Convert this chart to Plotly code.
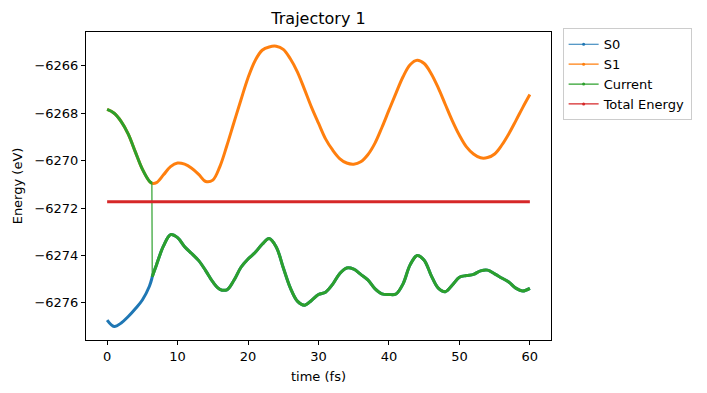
import plotly.graph_objects as go

# ---- data ----
time_fs = [0, 1, 2, 3, 4, 5, 6, 6.35, 6.4, 7, 8, 9, 10, 11, 12, 13, 14, 15, 16, 17, 18, 19, 20,
           21, 22, 23, 24, 25, 26, 27, 28, 29, 30, 31, 32, 33, 34, 35, 36, 37, 38, 39, 40,
           41, 42, 43, 44, 45, 46, 47, 48, 49, 50, 51, 52, 53, 54, 55, 56, 57, 58, 59, 60]

s0_energy = [-6276.73, -6277.00, -6276.85, -6276.58, -6276.25, -6275.88, -6275.30, -6274.97, -6274.90,
             -6274.40, -6273.60, -6273.12, -6273.25, -6273.63, -6273.92, -6274.22, -6274.65, -6275.12,
             -6275.43, -6275.45, -6275.05, -6274.50, -6274.15, -6273.88, -6273.53, -6273.29, -6273.64,
             -6274.52, -6275.37, -6275.93, -6276.10, -6275.90, -6275.65, -6275.55, -6275.22, -6274.77,
             -6274.53, -6274.58, -6274.80, -6275.03, -6275.40, -6275.62, -6275.65, -6275.63, -6275.20,
             -6274.40, -6274.00, -6274.20, -6274.85, -6275.38, -6275.53, -6275.25, -6274.92, -6274.85,
             -6274.80, -6274.65, -6274.62, -6274.78, -6274.95, -6275.12, -6275.38, -6275.50, -6275.39]

s1_energy = [-6267.84, -6268.00, -6268.35, -6268.88, -6269.63, -6270.36, -6270.87, -6270.95, -6270.96,
             -6270.93, -6270.60, -6270.25, -6270.10, -6270.15, -6270.32, -6270.58, -6270.88, -6270.82,
             -6270.25, -6269.36, -6268.39, -6267.43, -6266.50, -6265.78, -6265.34, -6265.20, -6265.17,
             -6265.30, -6265.70, -6266.25, -6266.98, -6267.74, -6268.42, -6269.08, -6269.55, -6269.91,
             -6270.10, -6270.15, -6270.05, -6269.75, -6269.27, -6268.60, -6267.87, -6267.15, -6266.46,
             -6265.95, -6265.76, -6265.90, -6266.33, -6266.93, -6267.63, -6268.32, -6268.93, -6269.42,
             -6269.72, -6269.88, -6269.87, -6269.72, -6269.35, -6268.87, -6268.32, -6267.75, -6267.21]

total_energy_value = -6271.74
hop_time = 6.35  # surface hop S1 -> S0

x_ticks = [0, 10, 20, 30, 40, 50, 60]
y_ticks = [-6276, -6274, -6272, -6270, -6268, -6266]

series_names = ["S0", "S1", "Current", "Total Energy"]
colors = ["#1f77b4", "#ff7f0e", "#2ca02c", "#d62728"]

# ---- derived ----
current_energy = [s1 if t <= hop_time else s0 for t, s0, s1 in zip(time_fs, s0_energy, s1_energy)]
total_energy = [total_energy_value for _ in time_fs]
pre = [i for i, t in enumerate(time_fs) if t <= hop_time]
post = [i for i, t in enumerate(time_fs) if t > hop_time]
cur_x_seg = [time_fs[i] for i in pre] + [None] + [time_fs[i] for i in post]
cur_y_seg = [current_energy[i] for i in pre] + [None] + [current_energy[i] for i in post]

fig = go.Figure()
W = 3
fig.add_trace(go.Scatter(x=time_fs, y=s0_energy, mode="lines", line=dict(color=colors[0], width=W, shape="spline"),
                         showlegend=False, hoverinfo="skip"))
fig.add_trace(go.Scatter(x=time_fs, y=s1_energy, mode="lines", line=dict(color=colors[1], width=W, shape="spline"),
                         showlegend=False, hoverinfo="skip"))
fig.add_trace(go.Scatter(x=time_fs, y=current_energy, mode="lines", line=dict(color=colors[2], width=1.2),
                         showlegend=False, hoverinfo="skip"))
fig.add_trace(go.Scatter(x=cur_x_seg, y=cur_y_seg, mode="lines", connectgaps=False,
                         line=dict(color=colors[2], width=W, shape="spline"),
                         showlegend=False, hoverinfo="skip"))
fig.add_trace(go.Scatter(x=time_fs, y=total_energy, mode="lines", line=dict(color=colors[3], width=W),
                         showlegend=False, hoverinfo="skip"))

# legend entries (thin line with small marker, as in the reference)
for name, c in zip(series_names, colors):
    fig.add_trace(go.Scatter(x=[None], y=[None], mode="lines+markers", name=name,
                             line=dict(color=c, width=1.2), marker=dict(color=c, size=3)))

axis_common = dict(showline=True, linecolor="black", linewidth=1, mirror=True, ticks="outside",
                   ticklen=4, tickcolor="black", showgrid=False, zeroline=False, automargin=False,
                   tickfont=dict(size=13, color="black"))

# the page body has an 8px margin; figure is sized so it ends at the window edge
FW, FH = 699, 385
fig.update_layout(
    width=FW, height=FH,
    margin=dict(l=78, r=156, t=24, b=53),
    paper_bgcolor="white", plot_bgcolor="white",
    font=dict(family="DejaVu Sans", size=13, color="black"),
    title=dict(text="Trajectory 1", x=(318.5 - 8) / FW, xanchor="center",
               y=1 - 10 / FH, yanchor="middle", yref="container", font=dict(size=16)),
    legend=dict(x=1.025, y=1.012, xanchor="left", yanchor="top", bordercolor="#cccccc", borderwidth=1,
                font=dict(size=13), tracegroupgap=0, itemwidth=30, bgcolor="white"),
)
fig.update_xaxes(range=[-3, 63], tickvals=x_ticks, title=dict(text="time (fs)", font=dict(size=13), standoff=9),
                 **axis_common)
fig.update_yaxes(range=[-6277.57, -6264.57], tickvals=y_ticks, title=dict(text="Energy (eV)", font=dict(size=13), standoff=8),
                 **axis_common)

fig.write_html("out.html")
